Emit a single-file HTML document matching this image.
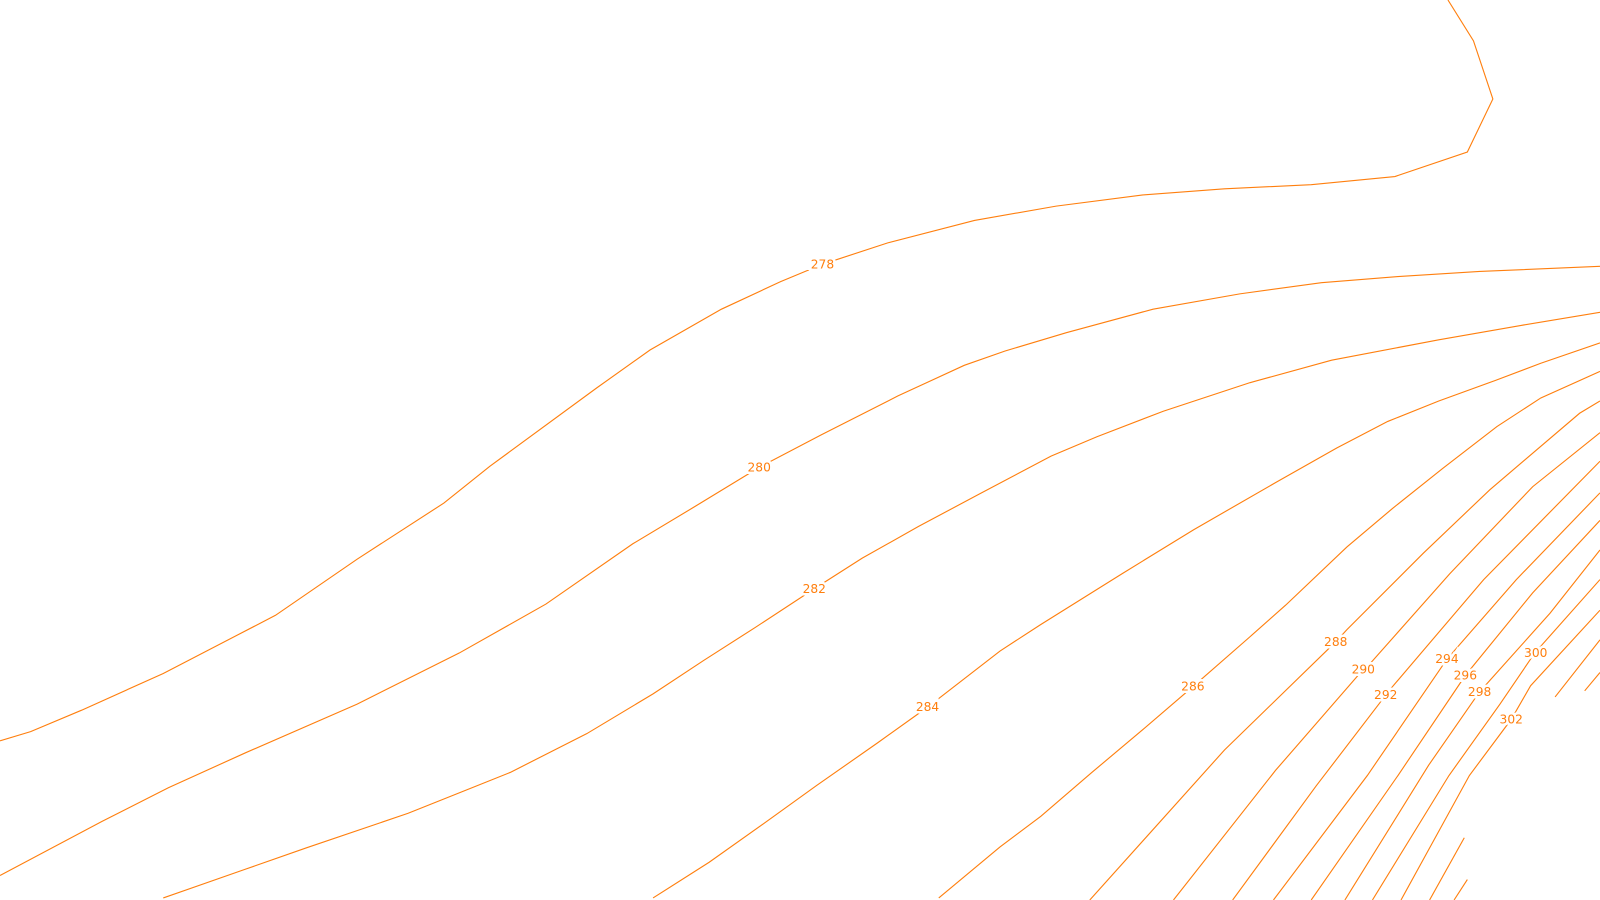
<!DOCTYPE html>
<html><head><meta charset="utf-8"><style>
html,body{margin:0;padding:0;background:#fff;width:1600px;height:900px;overflow:hidden}
svg{display:block}
text{font-family:"DejaVu Sans","Liberation Sans",sans-serif;font-size:12px;fill:#ff7f0e;text-anchor:middle;dominant-baseline:central;stroke:#fff;stroke-width:5px;paint-order:stroke}
polyline{fill:none;stroke:#ff7f0e;stroke-width:1.1}
</style></head><body>
<svg width="1600" height="900" viewBox="0 0 1568 882" xmlns="http://www.w3.org/2000/svg">
<polyline points="1419,0 1444,40 1463,97 1438,149 1367,173 1285,181 1200,185 1120,191 1035,202 955,216 870,238 806,259 765,276 707,303 637,343 585,380 480,457 435,493 350,548 270,603 160,660 80,696 30,717 0,726"/>
<polyline points="1568,261 1450,266 1370,271 1295,277 1215,288 1130,303 1045,326 985,344 945,358 880,388 805,426 744,458 680,497 620,533 535,592 450,640 350,690 240,738 165,772 100,805 0,858"/>
<polyline points="1568,306 1490,319 1410,333 1305,353 1225,375 1140,403 1075,428 1030,447 960,484 900,516 845,547 798,577 740,615 690,647 640,680 575,719 500,757 450,777 400,797 300,831 240,852 160,880"/>
<polyline points="1568,336 1510,356 1465,373 1410,393 1360,413 1310,439 1250,473 1170,519 1100,562 1020,612 980,638 909,693 860,728 800,770 750,806 695,845 640,880"/>
<polyline points="1568,364 1510,390 1467,418 1414,459 1365,498 1320,536 1260,593 1225,624 1169,673 1120,715 1070,757 1020,800 980,830 920,880"/>
<polyline points="1568,393 1548,405 1460,480 1395,542 1320,617 1309,629 1200,735 1068,882"/>
<polyline points="1568,424 1502,477 1421,562 1343,650 1336,656 1250,755 1150,882"/>
<polyline points="1568,452 1454,568 1362,676 1290,770 1208,882"/>
<polyline points="1568,483 1486,568 1418,646 1340,760 1248,882"/>
<polyline points="1568,510 1502,581 1436,662 1370,760 1285,882"/>
<polyline points="1568,539 1519,601 1450,678 1400,750 1318,882"/>
<polyline points="1568,568 1504,640 1470,690 1420,760 1345,882"/>
<polyline points="1568,598 1500,672 1481,705 1440,760 1373,882"/>
<polyline points="1568,627 1524,683"/>
<polyline points="1568,659 1553,677"/>
<polyline points="1435,821 1401,882"/>
<polyline points="1438,862 1425,882"/>
<text x="806" y="259">278</text>
<text x="744" y="458">280</text>
<text x="798" y="577">282</text>
<text x="909" y="693">284</text>
<text x="1169" y="673">286</text>
<text x="1309" y="629">288</text>
<text x="1336" y="656">290</text>
<text x="1358" y="681">292</text>
<text x="1418" y="646">294</text>
<text x="1436" y="662">296</text>
<text x="1450" y="678">298</text>
<text x="1505" y="640">300</text>
<text x="1481" y="705">302</text>
</svg>
</body></html>
